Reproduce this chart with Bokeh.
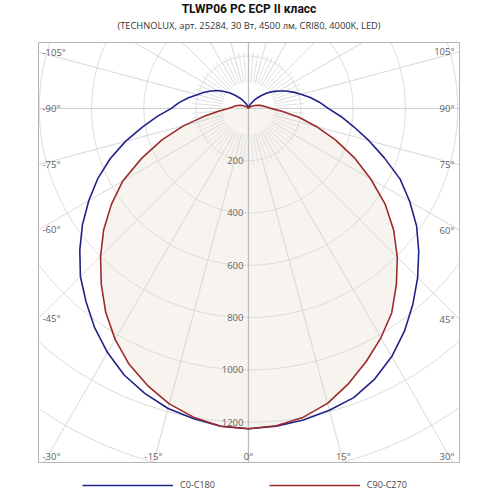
import numpy as np
from bokeh.plotting import figure
from bokeh.models import Range1d, Legend, LegendItem
from bokeh.core.properties import value
from bokeh.embed import file_html
from bokeh.resources import INLINE

# ---------------- data ----------------
title_text = "TLWP06 PC ECP II класс"
subtitle_text = "(TECHNOLUX, арт. 25284, 30 Вт, 4500 лм, CRI80, 4000K, LED)"

gamma = [0, 5, 10, 15, 20, 25, 30, 35, 40, 45, 50, 55, 60, 65, 70, 75, 80, 85, 90,
         95, 100, 105, 110, 115, 120, 125, 130, 135, 140, 145, 150, 155, 160, 165, 170, 175, 180]

# C0 (right half) and C180 (left half) -> blue curve
c0 = [1225, 1220, 1210, 1195, 1177, 1142, 1096, 1040, 978, 915, 850, 785, 712, 640, 553, 477, 410, 355, 305,
      272, 240, 208, 182, 157, 133, 112, 92, 70, 52, 37, 25, 16, 10, 5, 2, 1, 0]
c180 = [1225, 1220, 1205, 1188, 1160, 1125, 1078, 1025, 966, 909, 842, 775, 705, 636, 563, 487, 412, 350, 295,
        265, 233, 203, 180, 158, 137, 113, 92, 70, 52, 37, 25, 16, 10, 5, 2, 1, 0]
# C90 (right half) and C270 (left half) -> red curve
c90 = [1225, 1218, 1200, 1168, 1120, 1067, 1013, 955, 880, 805, 725, 638, 540, 447, 355, 270, 196, 128, 86,
       68, 55, 45, 35, 26, 19, 13, 9, 6, 4, 3, 2, 1, 1, 0, 0, 0, 0]
c270 = [1225, 1220, 1200, 1170, 1128, 1080, 1020, 952, 876, 800, 723, 640, 555, 450, 352, 258, 170, 112, 78,
        62, 52, 43, 34, 26, 19, 13, 9, 6, 4, 3, 2, 1, 1, 0, 0, 0, 0]

series_names = ["C0-C180", "C90-C270"]
radial_ticks = [200, 400, 600, 800, 1000, 1200]
circle_radii = [200, 400, 600, 800, 1000, 1200, 1400, 1600, 1800]
angle_ticks = [-105, -90, -75, -60, -45, -30, -15, 0, 15, 30, 45, 60, 75, 90, 105]

# ---------------- styling / layout ----------------
BLUE = "#1f2287"
RED = "#9c2a2a"
FILL = "#f7f4ef"
GRID = "#d8d8d8"
GRID_MINOR = "#e2e2e2"
LABEL = "#5e5e5e"
FONT = "Open Sans"

W = H = 500
# diagram box in data units (intensity, cd) and its pixel placement
X0, X1 = -803.0, 807.0
Y0, Y1 = -1354.0, 252.0
BOX_L, BOX_R, BOX_T = 38, 459, 42          # pixels
PX = (X1 - X0) / (BOX_R - BOX_L)           # data units per pixel
XL = X0 - BOX_L * PX
XR = XL + W * PX
YT = Y1 + BOX_T * PX
YB = YT - H * PX


def sy(py):
    return YT - py * PX


p = figure(width=W, height=H, output_backend="svg", toolbar_location=None,
           x_range=Range1d(XL, XR), y_range=Range1d(YB, YT),
           x_axis_location=None, y_axis_location=None, title=None,
           min_border=0, min_border_left=0, min_border_right=0, min_border_top=0, min_border_bottom=0)
p.grid.visible = False
p.outline_line_color = None
p.background_fill_color = "white"
p.border_fill_color = "white"

g = np.radians(np.array(gamma, dtype=float))


def curve(right, left):
    r_right = np.array(right, dtype=float)
    r_left = np.array(left, dtype=float)
    xl = -(r_left * np.sin(g))[::-1]
    yl = -(r_left * np.cos(g))[::-1]
    xr = r_right * np.sin(g)
    yr = -r_right * np.cos(g)
    return np.concatenate([xl, xr]), np.concatenate([yl, yr])


def inside(x, y):
    return (x >= X0) & (x <= X1) & (y >= Y0) & (y <= Y1)


bx, by = curve(c0, c180)
rx, ry = curve(c90, c270)

# fill inside red curve
p.patch(rx, ry, fill_color=FILL, line_color=None)

# circles, clipped to the box
th = np.linspace(0, 2 * np.pi, 1441)
cxs, cys = [], []
for r in circle_radii:
    x = r * np.cos(th)
    y = r * np.sin(th)
    m = inside(x, y)
    seg_x, seg_y = [], []
    for xi, yi, mi in zip(x, y, m):
        if mi:
            seg_x.append(float(xi)); seg_y.append(float(yi))
        elif seg_x:
            cxs.append(seg_x); cys.append(seg_y); seg_x, seg_y = [], []
    if seg_x:
        cxs.append(seg_x); cys.append(seg_y)
p.multi_line(cxs, cys, line_color=GRID, line_width=1)


def box_hit(a):
    ar = np.radians(a)
    dx, dy = np.sin(ar), -np.cos(ar)
    ts = []
    if dx < -1e-9:
        ts.append((X0 / dx, "left"))
    if dx > 1e-9:
        ts.append((X1 / dx, "right"))
    if dy < -1e-9:
        ts.append((Y0 / dy, "bottom"))
    if dy > 1e-9:
        ts.append((Y1 / dy, "top"))
    t, edge = min(ts)
    return t * dx, t * dy, edge


# spokes
maj_x, maj_y, min_x, min_y = [], [], [], []
for a in range(-175, 181, 5):
    ar = np.radians(a)
    if a % 15 == 0:
        if a in (0, 90, -90, 180):
            continue
        ex, ey, _ = box_hit(a)
        maj_x.append([100 * np.sin(ar), ex])
        maj_y.append([-100 * np.cos(ar), ey])
    else:
        min_x.append([100 * np.sin(ar), 215 * np.sin(ar)])
        min_y.append([-100 * np.cos(ar), -215 * np.cos(ar)])
p.multi_line(maj_x, maj_y, line_color=GRID, line_width=1)
p.multi_line(min_x, min_y, line_color=GRID_MINOR, line_width=1)
# main axes lines
p.segment(x0=[0], y0=[Y0], x1=[0], y1=[Y1], line_color="#bdbdbd", line_width=1.3)
p.segment(x0=[X0], y0=[0], x1=[X1], y1=[0], line_color="#cdcdcd", line_width=1)

# curves
rb = p.line(bx, by, line_color=BLUE, line_width=1.6)
rr = p.line(rx, ry, line_color=RED, line_width=1.6)

# box outline
p.quad(left=[X0], right=[X1], bottom=[Y0], top=[Y1], fill_color=None, line_color="#b4b4b4", line_width=1)

# titles
cx = (X0 + X1) / 2
p.text(x=[cx], y=[sy(8.5)], text=[title_text], text_align="center", text_baseline="middle",
       text_font=value("Roboto"), text_font_style="bold", text_font_size="12px", text_color="#111111")
p.text(x=[cx], y=[sy(24.5)], text=[subtitle_text], text_align="center", text_baseline="middle",
       text_font=value(FONT), text_font_size="9.3px", text_color="#333333")

# radial labels
p.text(x=[-5 * PX] * len(radial_ticks), y=[-r for r in radial_ticks], text=[str(r) for r in radial_ticks],
       text_align="right", text_baseline="middle", text_font=value(FONT), text_font_size="9.5px",
       text_color="#666666")

# angle labels at box edges
for a in angle_ticks:
    x, y, edge = box_hit(a)
    txt = f"{a}°"
    if edge == "left":
        x, al = X0 + 4 * PX, "left"
        y = min(max(y, Y0 + 7 * PX), Y1 - 7 * PX)
    elif edge == "right":
        x, al = X1 - 5 * PX, "right"
        y = min(max(y, Y0 + 7 * PX), Y1 - 7 * PX)
    else:
        y = Y0 + 6 * PX
        if x < X0 + 30 * PX:
            x, al = X0 + 4 * PX, "left"
        elif x > X1 - 30 * PX:
            x, al = X1 - 5 * PX, "right"
        else:
            al = "center"
    p.text(x=[x], y=[y], text=[txt], text_align=al, text_baseline="middle", text_font=value(FONT),
           text_font_size="9.5px", text_color=LABEL)

legend = Legend(items=[LegendItem(label=series_names[0], renderers=[rb]),
                       LegendItem(label=series_names[1], renderers=[rr])],
                orientation="horizontal", location=(82, 9), glyph_width=91, glyph_height=12,
                label_standoff=7, spacing=54, padding=4, margin=0, border_line_color=None,
                background_fill_alpha=0, label_text_font=FONT, label_text_font_size="9px",
                label_text_color="#444444", label_height=12)
p.add_layout(legend, "center")

open("out.html", "w").write(file_html(p, INLINE))
